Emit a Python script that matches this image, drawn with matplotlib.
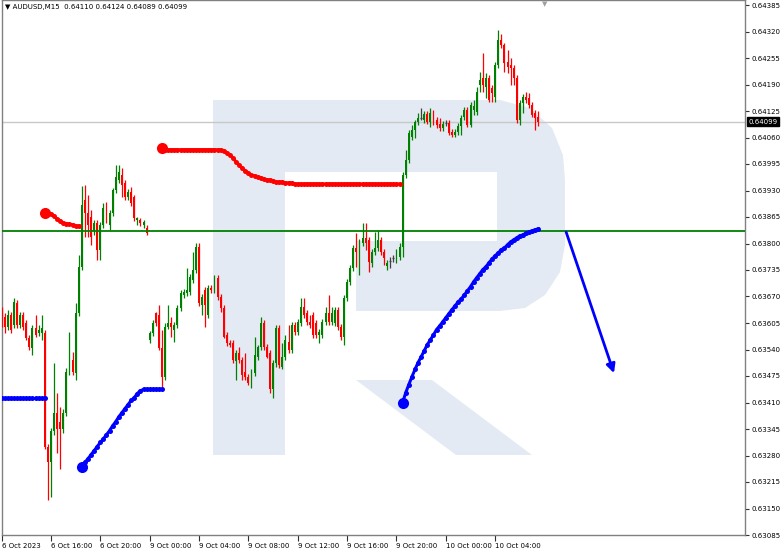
import matplotlib.pyplot as plt
from matplotlib.patches import Polygon, FancyArrowPatch

# AUDUSD M15, prices in points (1e-5)
opens = [63633, 63620, 63596, 63625, 63601, 63655, 63601, 63625, 63606, 63569,
         63544, 63593, 63581, 63581, 63581, 63302, 63263, 63339, 63385, 63361,
         63344, 63385, 63486, 63515, 63483, 63630, 63743, 63907, 63875, 63865,
         63831, 63851, 63785, 63846, 63887, 63846, 63875, 63932, 63956, 63968,
         63949, 63914, 63927, 63914, 63858, 63858, 63846, 63838, 63564, 63581,
         63630, 63625, 63544, 63473, 63596, 63606, 63589, 63601, 63642, 63674,
         63679, 63682, 63711, 63736, 63792, 63650, 63687, 63625, 63691, 63687,
         63716, 63669, 63642, 63576, 63557, 63557, 63513, 63532, 63515, 63486,
         63473, 63459, 63483, 63522, 63547, 63606, 63547, 63532, 63442, 63508,
         63593, 63498, 63522, 63559, 63540, 63601, 63584, 63606, 63645, 63630,
         63608, 63625, 63606, 63576, 63576, 63608, 63630, 63608, 63606, 63638,
         63596, 63571, 63667, 63706, 63740, 63789, 63785, 63802, 63814, 63809,
         63753, 63780, 63789, 63809, 63780, 63745, 63757, 63765, 63765, 63767,
         63792, 63968, 64005, 64061, 64079, 64098, 64108, 64103, 64118, 64098,
         64120, 64103, 64093, 64083, 64096, 64096, 64074, 64066, 64074, 64088,
         64110, 64128, 64091, 64128, 64123, 64189, 64206, 64184, 64206, 64181,
         64159, 64238, 64299, 64287, 64245, 64238, 64230, 64206, 64103, 64145,
         64159, 64157, 64140, 64120, 64110]
highs = [63645, 63630, 63638, 63633, 63667, 63662, 63633, 63633, 63613, 63576,
         63601, 63625, 63601, 63625, 63589, 63307, 63348, 63508, 63434, 63400,
         63393, 63495, 63584, 63535, 63655, 63772, 63941, 63944, 63919, 63883,
         63858, 63858, 63853, 63900, 63902, 63883, 63936, 63993, 63993, 63985,
         63956, 63934, 63939, 63919, 63865, 63863, 63858, 63846, 63586, 63613,
         63633, 63650, 63589, 63606, 63650, 63620, 63608, 63650, 63687, 63689,
         63740, 63726, 63780, 63802, 63802, 63677, 63694, 63699, 63699, 63723,
         63723, 63677, 63650, 63584, 63564, 63564, 63540, 63547, 63522, 63532,
         63481, 63491, 63571, 63552, 63620, 63613, 63554, 63540, 63515, 63601,
         63601, 63557, 63576, 63601, 63608, 63608, 63615, 63667, 63667, 63638,
         63625, 63633, 63613, 63591, 63615, 63645, 63674, 63645, 63645, 63645,
         63603, 63674, 63713, 63748, 63797, 63826, 63811, 63851, 63851, 63816,
         63787, 63829, 63834, 63816, 63787, 63760, 63767, 63772, 63787, 63802,
         63976, 64030, 64079, 64091, 64103, 64120, 64132, 64125, 64125, 64132,
         64128, 64110, 64108, 64101, 64103, 64103, 64081, 64081, 64096, 64115,
         64135, 64135, 64147, 64152, 64184, 64221, 64267, 64218, 64213, 64189,
         64245, 64324, 64314, 64292, 64275, 64255, 64238, 64213, 64152, 64167,
         64172, 64169, 64147, 64128, 64124]
lows = [63596, 63581, 63589, 63581, 63593, 63593, 63593, 63589, 63564, 63540,
        63527, 63571, 63574, 63564, 63295, 63172, 63179, 63331, 63287, 63246,
        63336, 63378, 63478, 63478, 63466, 63623, 63736, 63816, 63816, 63797,
        63821, 63760, 63760, 63838, 63851, 63834, 63868, 63924, 63949, 63914,
        63907, 63907, 63892, 63856, 63846, 63843, 63838, 63821, 63557, 63574,
        63598, 63540, 63449, 63466, 63591, 63571, 63559, 63593, 63635, 63667,
        63672, 63674, 63704, 63728, 63647, 63625, 63596, 63618, 63679, 63679,
        63662, 63633, 63569, 63549, 63547, 63508, 63466, 63508, 63466, 63466,
        63454, 63446, 63476, 63515, 63540, 63540, 63520, 63434, 63422, 63498,
        63495, 63491, 63515, 63532, 63532, 63576, 63576, 63598, 63618, 63601,
        63593, 63569, 63569, 63557, 63569, 63601, 63601, 63601, 63598, 63589,
        63564, 63552, 63660, 63699, 63733, 63743, 63723, 63794, 63785, 63731,
        63743, 63772, 63782, 63772, 63748, 63736, 63740, 63755, 63753, 63760,
        63767, 63961, 63998, 64054, 64059, 64091, 64103, 64096, 64093, 64086,
        64091, 64083, 64076, 64076, 64088, 64066, 64061, 64061, 64066, 64066,
        64103, 64086, 64086, 64115, 64115, 64172, 64172, 64157, 64147, 64147,
        64147, 64230, 64279, 64221, 64218, 64189, 64189, 64096, 64091, 64120,
        64145, 64132, 64110, 64079, 64089]
closes = [63606, 63596, 63625, 63589, 63657, 63601, 63625, 63596, 63569, 63547,
          63593, 63576, 63589, 63593, 63302, 63263, 63339, 63385, 63344, 63344,
          63385, 63486, 63515, 63486, 63630, 63743, 63895, 63875, 63846, 63816,
          63851, 63785, 63846, 63887, 63870, 63875, 63932, 63963, 63976, 63944,
          63914, 63927, 63900, 63863, 63863, 63851, 63853, 63826, 63581, 63606,
          63606, 63544, 63473, 63596, 63606, 63596, 63601, 63642, 63679, 63682,
          63687, 63718, 63736, 63792, 63655, 63669, 63650, 63691, 63687, 63716,
          63669, 63642, 63571, 63557, 63552, 63515, 63532, 63515, 63478, 63473,
          63459, 63483, 63527, 63547, 63606, 63547, 63522, 63442, 63508, 63593,
          63503, 63522, 63564, 63540, 63601, 63584, 63608, 63645, 63625, 63608,
          63601, 63576, 63576, 63584, 63608, 63630, 63608, 63630, 63638, 63596,
          63571, 63667, 63706, 63740, 63789, 63780, 63804, 63814, 63802, 63755,
          63780, 63789, 63809, 63780, 63765, 63753, 63757, 63765, 63780, 63792,
          63968, 64005, 64071, 64079, 64098, 64108, 64108, 64118, 64098, 64120,
          64098, 64091, 64083, 64093, 64096, 64071, 64066, 64074, 64088, 64108,
          64128, 64091, 64140, 64137, 64172, 64201, 64189, 64206, 64152, 64169,
          64238, 64299, 64287, 64243, 64233, 64230, 64206, 64103, 64145, 64159,
          64152, 64140, 64115, 64108, 64099]

# indicator dot lines: (first bar, values in points)
red_a_start = 14
red_a = [63876, 63875, 63873, 63868, 63860, 63856, 63851, 63849, 63848, 63846,
         63843, 63843]
red_b_start = 52
red_b = [64034, 64030, 64030, 64030, 64030, 64030, 64030, 64030, 64030, 64030,
         64030, 64030, 64030, 64030, 64030, 64030, 64030, 64030, 64030, 64030,
         64027, 64022, 64017, 64010, 64000, 63993, 63985, 63978, 63973, 63968,
         63966, 63963, 63961, 63958, 63956, 63956, 63954, 63951, 63951, 63951,
         63949, 63949, 63949, 63946, 63946, 63946, 63946, 63946, 63946, 63946,
         63946, 63946, 63946, 63946, 63946, 63946, 63946, 63946, 63946, 63946,
         63946, 63946, 63946, 63946, 63946, 63946, 63946, 63946, 63946, 63946,
         63946, 63946, 63946, 63946, 63946, 63946, 63946, 63946]
blue_a_start = 0
blue_a = [63422] * 15
blue_b_start = 26
blue_b = [63253, 63263, 63272, 63282, 63292, 63302, 63312, 63321, 63331, 63341,
          63353, 63363, 63375, 63385, 63395, 63405, 63415, 63422, 63432, 63439,
          63442, 63442, 63442, 63442, 63442, 63442, 63442]
blue_c_start = 130
blue_c = [63410, 63434, 63454, 63473, 63491, 63508, 63522, 63537, 63552, 63564,
          63576, 63589, 63598, 63608, 63618, 63628, 63638, 63647, 63657, 63664,
          63674, 63684, 63694, 63706, 63716, 63726, 63736, 63743, 63753, 63762,
          63770, 63777, 63785, 63789, 63797, 63804, 63809, 63814, 63819, 63821,
          63826, 63829, 63831, 63834, 63836]

level_green = 63831
last_price = 64099
arrow_from = (183, 63828)
arrow_to = (198.5, 63482)

price_ticks = ["0.63085", "0.63150", "0.63215", "0.63280", "0.63345", "0.63410",
               "0.63475", "0.63540", "0.63605", "0.63670", "0.63735", "0.63800",
               "0.63865", "0.63930", "0.63995", "0.64060", "0.64125", "0.64190",
               "0.64255", "0.64320", "0.64385"]
time_ticks = [0, 16, 32, 48, 64, 80, 96, 112, 128, 144, 160]
time_labels = ["6 Oct 2023", "6 Oct 16:00", "6 Oct 20:00", "9 Oct 00:00",
               "9 Oct 04:00", "9 Oct 08:00", "9 Oct 12:00", "9 Oct 16:00",
               "9 Oct 20:00", "10 Oct 00:00", "10 Oct 04:00"]

def pr(v):
    return v / 100000.0

W, H = 782, 554
fig = plt.figure(figsize=(W / 100, H / 100), dpi=100)
fig.patch.set_facecolor('white')

# watermark logo in pixel space
bg = fig.add_axes([0, 0, 1, 1], zorder=0)
bg.set_xlim(0, W)
bg.set_ylim(H, 0)
bg.axis('off')
logo_col = '#e4eaf3'
bowl = [(213, 100), (500, 100), (530, 108), (552, 128), (563, 155), (565, 180),
        (565, 245), (560, 272), (545, 295), (525, 308), (500, 311), (356, 311),
        (356, 241), (497, 241), (497, 172), (285, 172), (285, 455), (213, 455)]
bg.add_patch(Polygon(bowl, closed=True, fc=logo_col, ec='none'))
leg = [(356, 380), (432, 380), (532, 455), (456, 455)]
bg.add_patch(Polygon(leg, closed=True, fc=logo_col, ec='none'))

ax = fig.add_axes([1.5 / W, 19 / H, 743.5 / W, 535 / H], zorder=1)
ax.set_facecolor('none')

bar_px = 3.085
x0 = (1.5 - 1.6) / bar_px
x1 = (745 - 1.6) / bar_px
ax.set_xlim(x0, x1)
ytop = 0.64385 + 5 * 0.00065 / 26.5
ybot = 0.64385 - 530 * 0.00065 / 26.5
ax.set_ylim(ybot, ytop)

green = '#008000'
red = '#ff0000'
for i in range(len(closes)):
    o, h, l, c = pr(opens[i]), pr(highs[i]), pr(lows[i]), pr(closes[i])
    if c > o:
        col = green
    elif c < o:
        col = red
    else:
        col = '#404040'
    ax.vlines(i, l, h, color=col, lw=0.9, zorder=3)
    if c == o:
        ax.hlines(o, i - 0.35, i + 0.35, color=col, lw=0.9, zorder=3)
    else:
        ax.bar(i, c - o, bottom=o, width=0.62, color=col, lw=0, zorder=4)

ax.axhline(pr(last_price), color='#c8c8c8', lw=1, zorder=2)
ax.axhline(pr(level_green), color=green, lw=1.3, zorder=5)

def dots(start, vals, col):
    xs = list(range(start, start + len(vals)))
    ys = [pr(v) for v in vals]
    ax.plot(xs, ys, color=col, lw=2.2, marker='o', ms=3.6, mec='none', zorder=6)
    return xs, ys

xs, ys = dots(red_a_start, red_a, red)
ax.plot(xs[0], ys[0], 'o', color=red, ms=8, mec='none', zorder=7)
xs, ys = dots(red_b_start, red_b, red)
ax.plot(xs[0], ys[0], 'o', color=red, ms=8, mec='none', zorder=7)
dots(blue_a_start, blue_a, '#0000ff')
xs, ys = dots(blue_b_start, blue_b, '#0000ff')
ax.plot(xs[0], ys[0], 'o', color='#0000ff', ms=8, mec='none', zorder=7)
xs, ys = dots(blue_c_start, blue_c, '#0000ff')
ax.plot(xs[0], ys[0], 'o', color='#0000ff', ms=8, mec='none', zorder=7)

arr = FancyArrowPatch((arrow_from[0], pr(arrow_from[1])), (arrow_to[0], pr(arrow_to[1])),
                      arrowstyle='-|>', mutation_scale=13, color='#0000ff', lw=2, zorder=6,
                      shrinkA=0, shrinkB=0)
ax.add_patch(arr)

# axes styling
for s in ax.spines.values():
    s.set_color('#808080')
    s.set_linewidth(1)
ax.yaxis.tick_right()
ax.set_yticks([float(t) for t in price_ticks])
ax.set_yticklabels(price_ticks)
ax.tick_params(axis='y', direction='out', length=3, width=0.8, labelsize=5,
               pad=1.5, colors='#303030', labelcolor='black')
ax.set_xticks(time_ticks)
ax.set_xticklabels(time_labels, ha='left')
ax.tick_params(axis='x', direction='out', length=4, width=0.8, labelsize=5,
               pad=2, colors='#303030', labelcolor='black')

ax.annotate(f"{pr(last_price):.5f}", xy=(1, pr(last_price)),
            xycoords=('axes fraction', 'data'), xytext=(2.5, 0),
            textcoords='offset points', va='center', ha='left', fontsize=5,
            color='white', bbox=dict(boxstyle='square,pad=0.2', fc='black', ec='black'))

fig.text(5 / W, 1 - 7 / H, "\u25BC AUDUSD,M15  0.64110 0.64124 0.64089 0.64099",
         fontsize=5, va='center', ha='left', color='black')
fig.text(545 / W, 1 - 4 / H, "\u25BC", fontsize=5, color='#a0a0a0', ha='center', va='center')

fig.savefig('out.png', dpi=100)
